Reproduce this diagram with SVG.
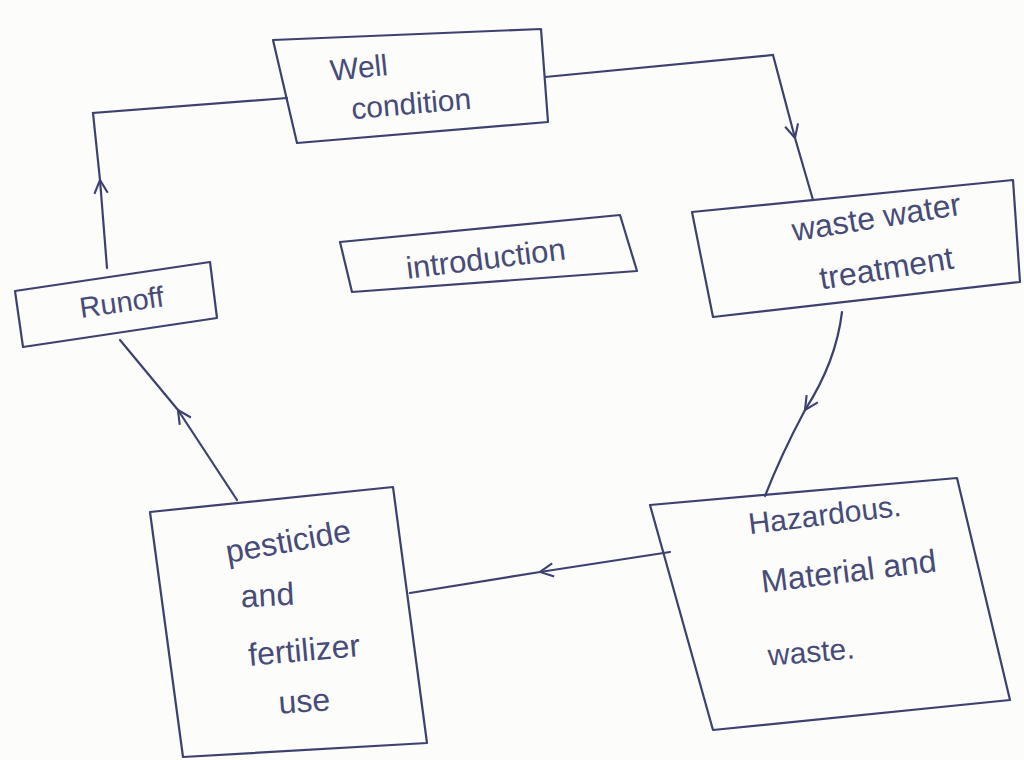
<svg xmlns="http://www.w3.org/2000/svg" width="1024" height="760" viewBox="0 0 1024 760">
  <style>
    .box { fill: none; stroke: #3d4170; stroke-width: 2.2; stroke-linejoin: round; }
    .edge { fill: none; stroke: #3d4170; stroke-width: 2.2; stroke-linecap: round; }
    .lbl { font-family: "Liberation Sans", "DejaVu Sans", sans-serif; fill: #474b78; text-anchor: middle; }
  </style>
  <defs>
    <marker id="arr" viewBox="0 0 12 12" refX="11" refY="6" markerWidth="16" markerHeight="16" markerUnits="userSpaceOnUse" orient="auto">
      <path d="M1,1 L11,6 L1,11" fill="none" stroke="#3d4170" stroke-width="1.6"/>
    </marker>
  </defs>
  <rect width="1024" height="760" fill="#fcfcfa"/>

  <g id="connectors">
    <path class="edge" d="M107,268 L100,180" marker-end="url(#arr)"/>
    <path class="edge" d="M100,180 L93,113 L287,98"/>
    <path class="edge" d="M545,77 L773,55 L795,138" marker-end="url(#arr)"/>
    <path class="edge" d="M795,138 L813,200"/>
    <path class="edge" d="M842,312 Q836,362 805,410" marker-end="url(#arr)"/>
    <path class="edge" d="M805,410 Q781,455 765,496"/>
    <path class="edge" d="M670,552 L540,572" marker-end="url(#arr)"/>
    <path class="edge" d="M540,572 L410,593"/>
    <path class="edge" d="M237,500 L178,410" marker-end="url(#arr)"/>
    <path class="edge" d="M178,410 L120,340"/>
  </g>

  <g id="well-condition">
    <polygon class="box" points="273,40 541,29 548,122 297,143"/>
    <text class="lbl" font-size="30" transform="translate(360,78) rotate(-6)">Well</text>
    <text class="lbl" font-size="30" transform="translate(412,114) rotate(-5)">condition</text>
  </g>

  <g id="waste-water-treatment">
    <polygon class="box" points="692,212 1013,180 1020,282 713,317"/>
    <text class="lbl" font-size="32" transform="translate(878,228) rotate(-9)">waste water</text>
    <text class="lbl" font-size="32" transform="translate(888,279) rotate(-9)">treatment</text>
  </g>

  <g id="runoff">
    <polygon class="box" points="15,291 210,262 217,318 23,347"/>
    <text class="lbl" font-size="29" transform="translate(123,312) rotate(-8)">Runoff</text>
  </g>

  <g id="introduction">
    <polygon class="box" points="340,242 620,215 637,271 352,292"/>
    <text class="lbl" font-size="31" transform="translate(487,269) rotate(-7)">introduction</text>
  </g>

  <g id="pesticide-fertilizer">
    <polygon class="box" points="150,512 393,487 427,743 183,757"/>
    <text class="lbl" font-size="32" transform="translate(290,552) rotate(-10)">pesticide</text>
    <text class="lbl" font-size="32" transform="translate(268,606) rotate(-3)">and</text>
    <text class="lbl" font-size="32" transform="translate(305,661) rotate(-5)">fertilizer</text>
    <text class="lbl" font-size="32" transform="translate(305,712) rotate(-4)">use</text>
  </g>

  <g id="hazardous-material">
    <polygon class="box" points="650,505 957,478 1010,700 713,730"/>
    <text class="lbl" font-size="30" transform="translate(826,525) rotate(-7)">Hazardous.</text>
    <text class="lbl" font-size="32" transform="translate(850,582) rotate(-7)">Material and</text>
    <text class="lbl" font-size="30" transform="translate(812,662) rotate(-5)">waste.</text>
  </g>
</svg>
